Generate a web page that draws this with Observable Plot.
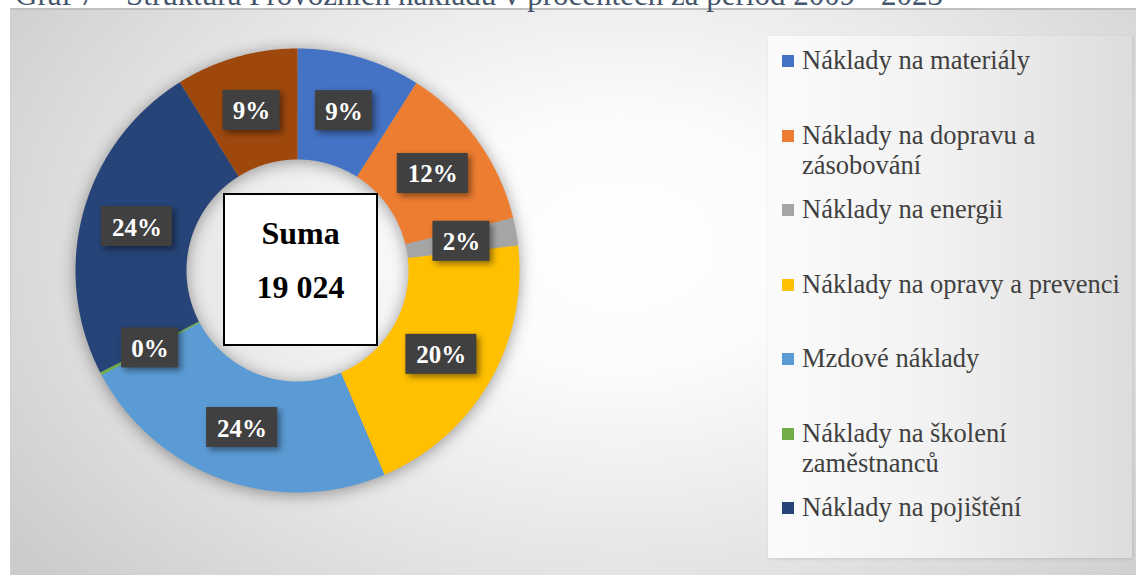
<!DOCTYPE html>
<html>
<head>
<meta charset="utf-8">
<script src="https://cdn.jsdelivr.net/npm/d3@7"></script>
<script src="https://cdn.jsdelivr.net/npm/@observablehq/plot@0.6"></script>
<style>
  body { margin: 0; background: #ffffff; font-family: "Liberation Serif", "Times New Roman", serif; }
  #root { position: relative; width: 1136px; height: 575px; overflow: hidden; background: #fff; font-family: "Liberation Serif", serif; }
  #title { position: absolute; left: 15px; top: -21px; font-size: 31px; line-height: 1; color: #44546a; white-space: nowrap; }
  #frame { position: absolute; left: 10px; top: 8px; width: 1126px; height: 567px;
    border-top: 2px solid #c0c0c0; border-left: 1px solid #cfcfcf; box-sizing: border-box;
    background: radial-gradient(ellipse 760px 520px at 610px 235px, #ffffff 0%, #fbfbfb 25%, #e6e6e6 60%, #cbcbcb 100%); }
  #legend { position: absolute; left: 768px; top: 36px; width: 364px; height: 522px;
    background: linear-gradient(90deg, #fbfbfb 0%, #f2f2f2 45%, #dddddd 100%);
    box-shadow: 1px 1px 3px rgba(0,0,0,0.12); }
  .item { position: absolute; left: 782px; display: flex; align-items: flex-start; font-family: "Liberation Serif", serif; font-size: 26.5px; line-height: 30px; color: #404040; }
  .sw { width: 12px; height: 12px; margin-top: 10px; margin-right: 8px; flex: none; }
  .txt { width: 330px; }
  #plot { position: absolute; left: 37px; top: 10px; }
  #plot g[aria-label="line"] { filter: drop-shadow(0px 2px 8px rgba(0,0,0,0.38)); }
  #plot g[aria-label="rect"] { filter: drop-shadow(3px 3px 3px rgba(0,0,0,0.45)); }
  #sum { position: absolute; left: 223px; top: 193px; width: 155px; height: 153px; box-sizing: border-box;
    background: #ffffff; border: 2px solid #000; font-weight: bold; font-size: 32px; color: #000; text-align: center; }
  #sum div { position: absolute; left: 0; right: 0; }
</style>
</head>
<body>
<div id="root">
  <div id="frame"></div>
  <div id="title">Graf 7 – Struktura Provozních nákladů v procentech za period 2009 - 2023</div>
  <div id="legend"></div>
  <div id="plot"></div>
  <div id="sum"><div style="top:20px">Suma</div><div style="top:74px">19 024</div></div>
</div>
<script>
// ---- data ----
const categories = [
  "Náklady na materiály",
  "Náklady na dopravu a zásobování",
  "Náklady na energii",
  "Náklady na opravy a prevenci",
  "Mzdové náklady",
  "Náklady na školení zaměstnanců",
  "Náklady na pojištění",
  "Ostatní náklady"
];
const values = [1712, 2321, 380, 3881, 4490, 40, 4507, 1693];
const colors = ["#4472C4", "#ED7D31", "#A5A5A5", "#FFC000", "#5B9BD5", "#70AD47", "#264478", "#9E480E"];
const legendCount = 7;

// ---- derived geometry (data units, radius 1 = outer edge) ----
const total = d3.sum(values);
const arcs = d3.pie().sort(null)(values);
const inner = 0.5, outer = 1, labelR = 0.75;
const ring = [];
arcs.forEach((a, i) => {
  const n = Math.max(2, Math.ceil((a.endAngle - a.startAngle) / 0.005));
  for (let k = 0; k <= n; k++) {
    const t = a.startAngle + (a.endAngle - a.startAngle) * k / n;
    ring.push({cat: categories[i], x: outer * Math.sin(t), y: outer * Math.cos(t)});
  }
  for (let k = n; k >= 0; k--) {
    const t = a.startAngle + (a.endAngle - a.startAngle) * k / n;
    ring.push({cat: categories[i], x: inner * Math.sin(t), y: inner * Math.cos(t)});
  }
});
const labels = arcs.map((a, i) => {
  const m = (a.startAngle + a.endAngle) / 2;
  return {cat: categories[i], x: labelR * Math.sin(m), y: labelR * Math.cos(m),
          text: Math.round(values[i] / total * 100) + "%"};
});

const size = 520, rPx = 222, ext = (size / 2) / rPx;
const box = (w) => ({insetLeft: -w / 2, insetRight: -w / 2, insetTop: -20, insetBottom: -20});

const chart = Plot.plot({
  width: size, height: size,
  margin: 0,
  style: {background: "transparent", overflow: "visible"},
  x: {domain: [-ext, ext], axis: null},
  y: {domain: [-ext, ext], axis: null},
  color: {domain: categories, range: colors},
  marks: [
    Plot.line(ring, {x: "x", y: "y", z: "cat", fill: "cat", stroke: "none", curve: "linear-closed"}),
    Plot.rect(labels.filter(d => d.text.length === 2), {x1: "x", x2: "x", y1: "y", y2: "y", fill: "#404040", ...box(57)}),
    Plot.rect(labels.filter(d => d.text.length === 3), {x1: "x", x2: "x", y1: "y", y2: "y", fill: "#404040", ...box(71)}),
    Plot.text(labels, {x: "x", y: "y", text: "text", fill: "#ffffff", fontSize: 25, fontWeight: "bold",
      fontFamily: "Liberation Serif, Times New Roman, serif", dy: 1})
  ]
});
document.getElementById("plot").appendChild(chart);

// ---- legend ----
const root = document.getElementById("root");
categories.slice(0, legendCount).forEach((c, i) => {
  const it = document.createElement("div");
  it.className = "item";
  it.style.top = (45 + 74.5 * i) + "px";
  it.innerHTML = `<span class="sw" style="background:${colors[i]}"></span><span class="txt">${c}</span>`;
  root.appendChild(it);
});
</script>
</body>
</html>
